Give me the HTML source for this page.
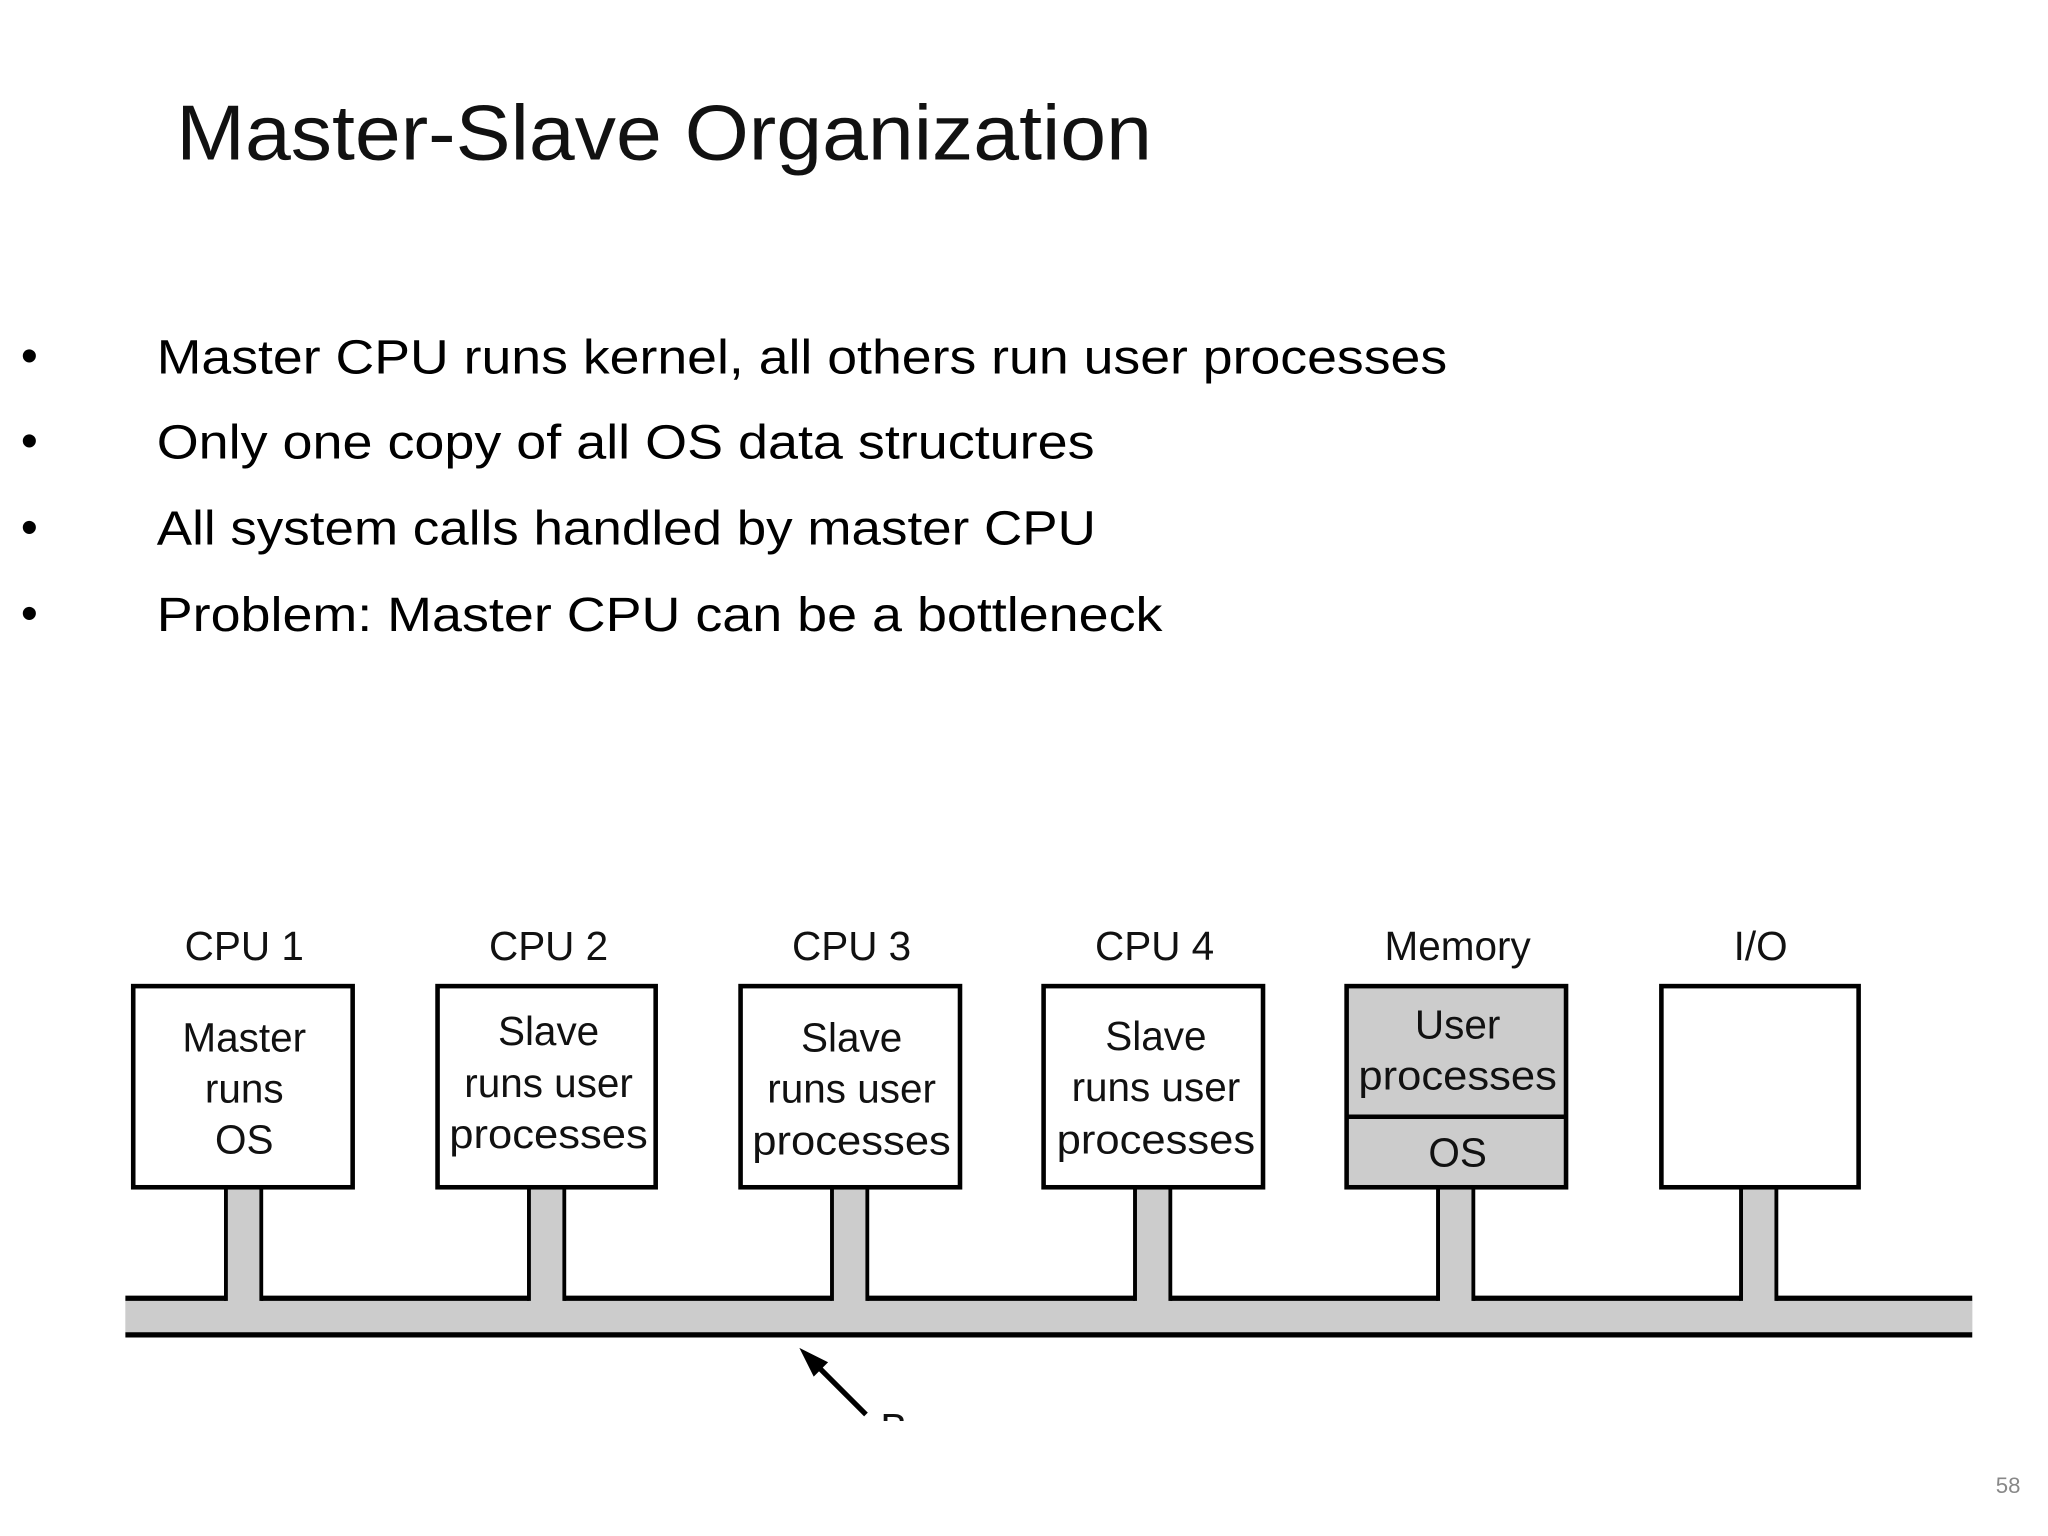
<!DOCTYPE html>
<html><head><meta charset="utf-8"><style>
html,body{margin:0;padding:0;background:#fff;width:2048px;height:1536px;overflow:hidden}
svg{display:block}
</style></head><body>
<svg width="2048" height="1536" viewBox="0 0 1568 1176" xmlns="http://www.w3.org/2000/svg">
<rect width="1568" height="1176" fill="#fff"/>
<text x="135" y="122" font-family="Liberation Sans, sans-serif" font-size="60" fill="#111" textLength="747" lengthAdjust="spacingAndGlyphs">Master-Slave Organization</text>
<g font-family="Liberation Sans, sans-serif" font-size="37" fill="#000">
<text x="16" y="285">•</text><text x="120" y="286" textLength="988" lengthAdjust="spacingAndGlyphs">Master CPU runs kernel, all others run user processes</text>
<text x="16" y="350">•</text><text x="120" y="351" textLength="718" lengthAdjust="spacingAndGlyphs">Only one copy of all OS data structures</text>
<text x="16" y="416">•</text><text x="120" y="417" textLength="719" lengthAdjust="spacingAndGlyphs">All system calls handled by master CPU</text>
<text x="16" y="482">•</text><text x="120" y="483" textLength="770" lengthAdjust="spacingAndGlyphs">Problem: Master CPU can be a bottleneck</text>
</g>
<rect x="96" y="994" width="1414" height="28" fill="#ccc"/>
<g fill="#ccc" stroke="#000" stroke-width="3">
<rect x="173" y="905" width="27" height="95"/>
<rect x="405" y="905" width="27" height="95"/>
<rect x="637" y="905" width="27" height="95"/>
<rect x="869" y="905" width="27" height="95"/>
<rect x="1101" y="905" width="27" height="95"/>
<rect x="1333" y="905" width="27" height="95"/>
</g>
<rect x="96" y="996" width="1414" height="24" fill="#ccc"/>
<g fill="#ccc">
<rect x="174.5" y="905" width="24" height="95"/><rect x="406.5" y="905" width="24" height="95"/><rect x="638.5" y="905" width="24" height="95"/><rect x="870.5" y="905" width="24" height="95"/><rect x="1102.5" y="905" width="24" height="95"/><rect x="1334.5" y="905" width="24" height="95"/>
</g>
<g stroke="#000" stroke-width="4">
<line x1="96" y1="994" x2="173" y2="994"/><line x1="200" y1="994" x2="405" y2="994"/><line x1="432" y1="994" x2="637" y2="994"/><line x1="664" y1="994" x2="869" y2="994"/><line x1="896" y1="994" x2="1101" y2="994"/><line x1="1128" y1="994" x2="1333" y2="994"/><line x1="1360" y1="994" x2="1510" y2="994"/>
<line x1="96" y1="1022" x2="1510" y2="1022"/>
</g>
<g stroke="#000" stroke-width="3.5">
<rect x="102" y="755" width="168" height="154" fill="#fff"/>
<rect x="335" y="755" width="167" height="154" fill="#fff"/>
<rect x="567" y="755" width="168" height="154" fill="#fff"/>
<rect x="799" y="755" width="168" height="154" fill="#fff"/>
<rect x="1031" y="755" width="168" height="154" fill="#ccc"/>
<line x1="1031" y1="855" x2="1199" y2="855"/>
<rect x="1272" y="755" width="151" height="154" fill="#fff"/>
</g>
<g font-family="Liberation Sans, sans-serif" font-size="31" fill="#111" text-anchor="middle">
<text x="187" y="735">CPU 1</text><text x="420" y="735">CPU 2</text><text x="652" y="735">CPU 3</text><text x="884" y="735">CPU 4</text><text x="1116" y="735">Memory</text><text x="1348" y="735">I/O</text>
<text x="187" y="805">Master</text><text x="187" y="844">runs</text><text x="187" y="883">OS</text>
<text x="420" y="800">Slave</text><text x="420" y="840">runs user</text><text x="420" y="879" textLength="152" lengthAdjust="spacingAndGlyphs">processes</text>
<text x="652" y="805">Slave</text><text x="652" y="844">runs user</text><text x="652" y="884" textLength="152" lengthAdjust="spacingAndGlyphs">processes</text>
<text x="885" y="804">Slave</text><text x="885" y="843">runs user</text><text x="885" y="883" textLength="152" lengthAdjust="spacingAndGlyphs">processes</text>
<text x="1116" y="795">User</text><text x="1116" y="834" textLength="152" lengthAdjust="spacingAndGlyphs">processes</text><text x="1116" y="893">OS</text>
</g>
<line x1="663" y1="1083" x2="622" y2="1042" stroke="#000" stroke-width="4"/>
<polygon points="612,1032 634,1043 623,1054" fill="#000"/>
<clipPath id="c"><rect x="660" y="1070" width="40" height="18"/></clipPath>
<text x="674" y="1104" font-family="Liberation Sans, sans-serif" font-size="31" fill="#111" clip-path="url(#c)">B</text>
<text x="1528" y="1143" font-family="Liberation Sans, sans-serif" font-size="17" fill="#888">58</text>
</svg>
</body></html>
